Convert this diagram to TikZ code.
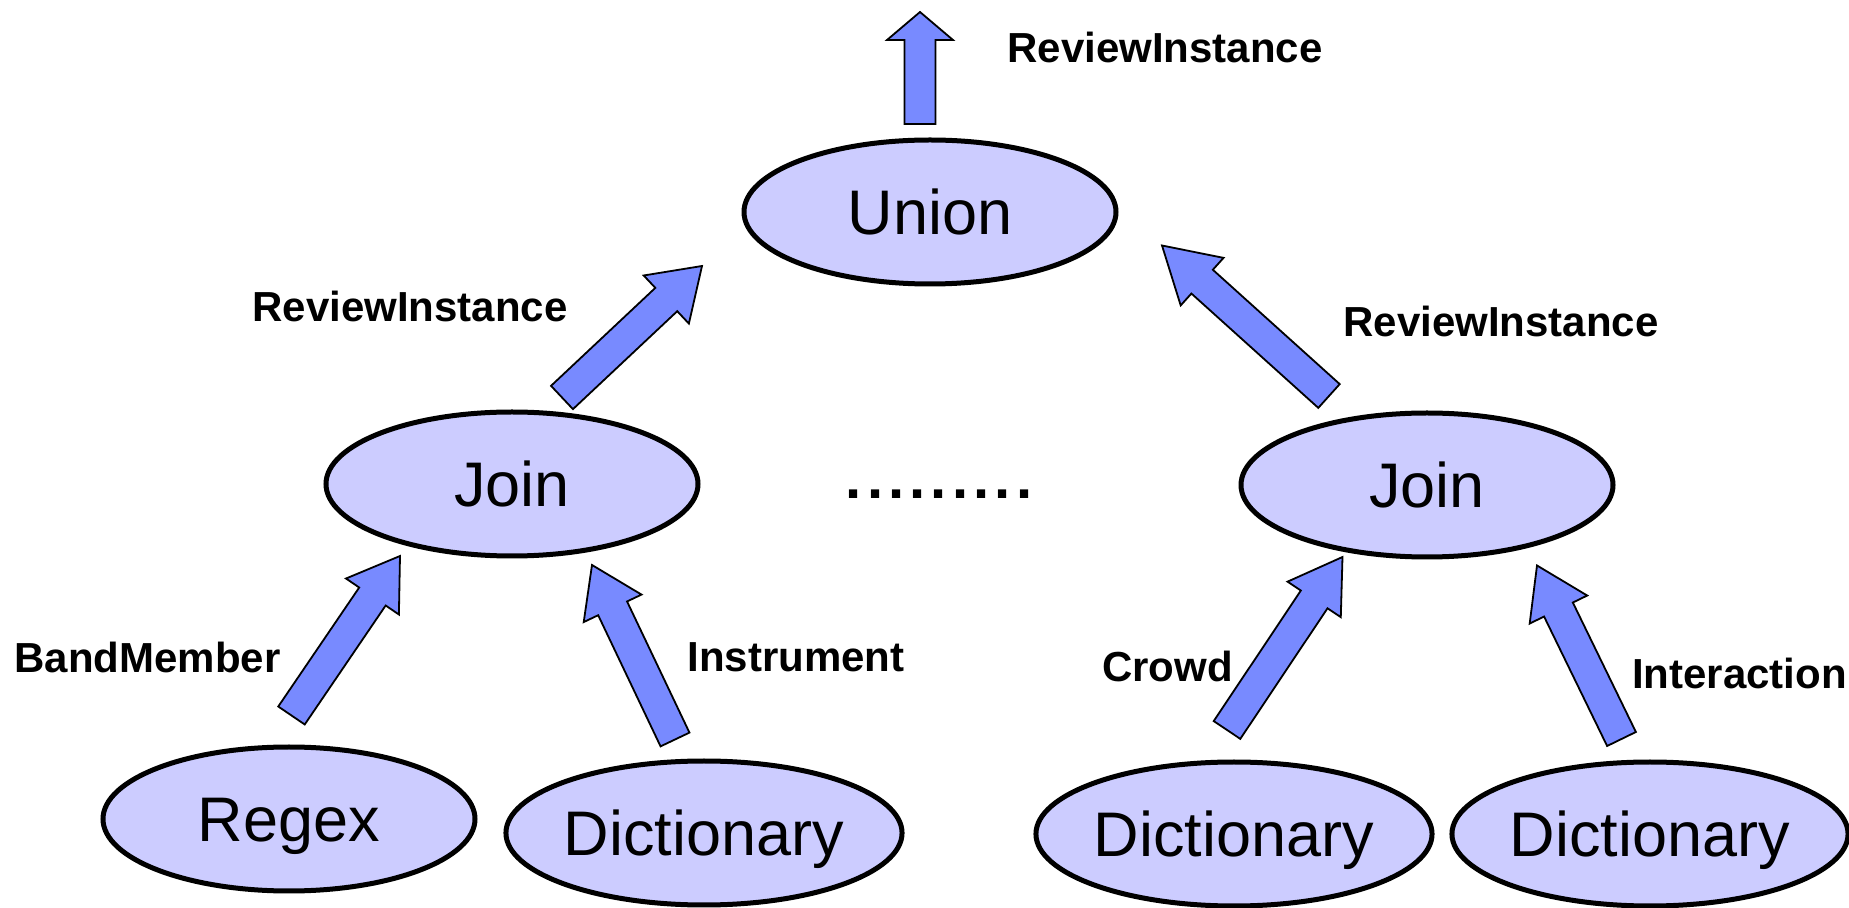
\documentclass[tikz,border=0pt]{standalone}
\usepackage{fontspec}
\setmainfont{Liberation Sans}
\usetikzlibrary{shapes.geometric,calc}

\definecolor{opfill}{RGB}{204,204,255}
\definecolor{flowfill}{RGB}{120,138,255}

% Block arrow: #1 tail centre, #2 tip, #3 half shaft width,
% #4 half head width, #5 head length
\newcommand\flowarrow[5]{%
  \coordinate (fa-base) at ($(#2)!#5!(#1)$);
  \draw[flowarrow]
    ($(#1)!#3!90:(#2)$) -- ($(fa-base)!#3!90:(#2)$) --
    ($(fa-base)!#4!90:(#2)$) -- (#2) --
    ($(fa-base)!#4!-90:(#2)$) -- ($(fa-base)!#3!-90:(#2)$) --
    ($(#1)!#3!-90:(#2)$) -- cycle;
}
\newcommand\dotrow{\foreach \k in {1,...,9}{\makebox[10.625pt]{.}}}

\tikzset{
  op/.style={ellipse, draw, line width=2.5pt, fill=opfill,
    minimum width=186pt, minimum height=72pt, inner sep=0pt,
    font=\fontsize{31.5}{36}\selectfont, text height=22.5pt, text depth=0pt},
  lbl/.style={font=\fontsize{21}{25}\selectfont\bfseries, inner sep=0pt,
    text height=15pt, text depth=0pt},
  flowarrow/.style={fill=flowfill, draw=black, line width=0.9pt, line join=miter},
}

\begin{document}
\begin{tikzpicture}[x=0.5pt,y=-0.5pt]
\useasboundingbox (0,0) rectangle (1849,908);

% operators
\node[op] (union) at (930,212) {Union};
\node[op] (joinL) at (512,484) {Join};
\node[op] (joinR) at (1427,485) {Join};
\node[op] (regex) at (289,819) {Regex};
\node[op] (dictA) at (704,833) {Dictionary};
\node[op] (dictB) at (1234,834) {Dictionary};
\node[op] (dictC) at (1650,834) {Dictionary};

% elision between the two branches
\node[inner sep=0pt, anchor=base, font=\fontsize{29}{32}\selectfont\bfseries]
  (more) at (939,499) {\dotrow};

% arrow end points
\coordinate (out-tail) at (920,124);  \coordinate (out-tip) at (920,12);
\coordinate (jl-tail) at (562,397.5); \coordinate (jl-tip) at (702,266);
\coordinate (jr-tail) at (1329,396);  \coordinate (jr-tip) at (1162,245.5);
\coordinate (rg-tail) at (291.5,715.5); \coordinate (rg-tip) at (400,556);
\coordinate (da-tail) at (675,739.5); \coordinate (da-tip) at (592,565);
\coordinate (db-tail) at (1227,730);  \coordinate (db-tip) at (1342.5,557);
\coordinate (dc-tail) at (1621.5,739); \coordinate (dc-tip) at (1537,565.5);

\flowarrow{out-tail}{out-tip}{7.75pt}{16.5pt}{14pt}
\flowarrow{jl-tail}{jl-tip}{8pt}{16.5pt}{24.5pt}
\flowarrow{jr-tail}{jr-tip}{8pt}{16pt}{27pt}
\flowarrow{rg-tail}{rg-tip}{8pt}{16pt}{24.5pt}
\flowarrow{da-tail}{da-tip}{8pt}{16pt}{24pt}
\flowarrow{db-tail}{db-tip}{8pt}{16pt}{25.5pt}
\flowarrow{dc-tail}{dc-tip}{8pt}{16pt}{24.5pt}

% stream labels
\node[lbl] (l-out) at (1165,48) {ReviewInstance};
\node[lbl] (l-jl) at (410,306.5) {ReviewInstance};
\node[lbl] (l-jr) at (1501,322) {ReviewInstance};
\node[lbl] (l-rg) at (147.5,657.5) {BandMember};
\node[lbl] (l-da) at (796,657) {Instrument};
\node[lbl] (l-db) at (1167.5,667) {Crowd};
\node[lbl] (l-dc) at (1739.5,673.5) {Interaction};
\end{tikzpicture}
\end{document}
